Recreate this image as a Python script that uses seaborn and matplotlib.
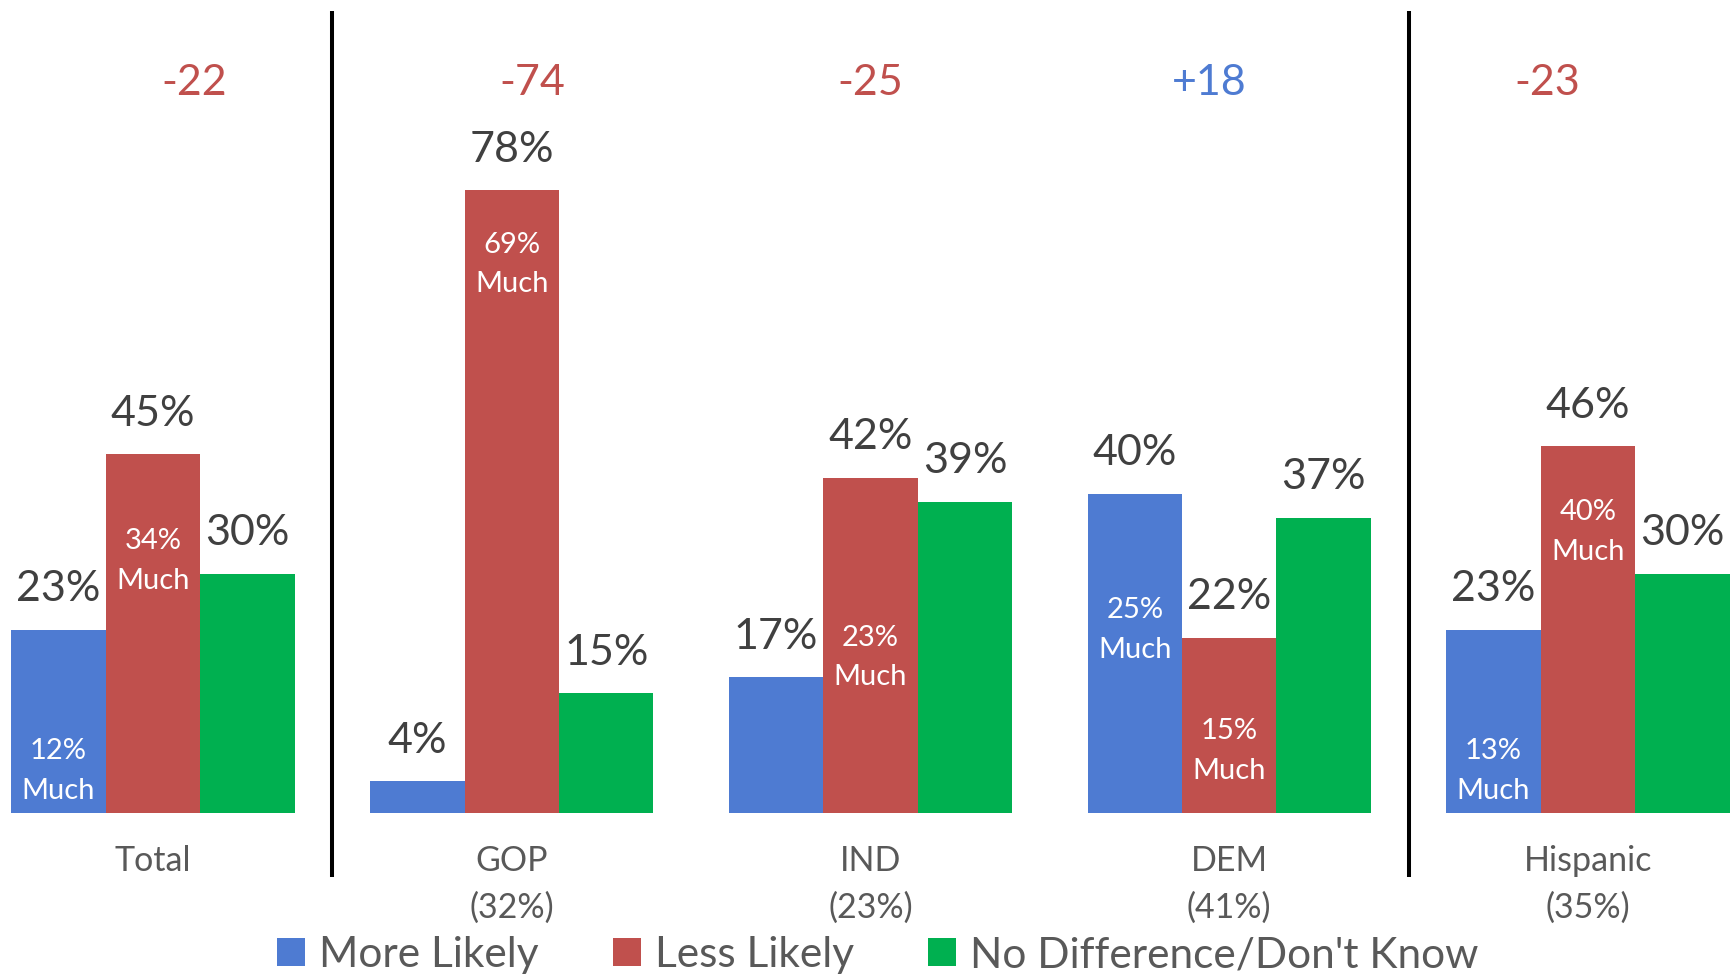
import matplotlib
matplotlib.use("Agg")
import matplotlib.pyplot as plt
import seaborn as sns
import pandas as pd
from matplotlib.patches import Patch

# ---------------- data ----------------
groups = ["Total", "GOP", "IND", "DEM", "Hispanic"]
group_shares = ["", "(32%)", "(23%)", "(41%)", "(35%)"]
responses = ["More Likely", "Less Likely", "No Difference/Don't Know"]
more_likely = [23, 4, 17, 40, 23]
less_likely = [45, 78, 42, 22, 46]
no_difference = [30, 15, 39, 37, 30]
much_more = [12, None, None, 25, 13]
much_less = [34, 69, 23, 15, 40]

# ---------------- style / layout ----------------
colors = ["#4E7BD2", "#C0504D", "#00B050"]
value_color = "#404040"
axis_text_color = "#595959"
# vertical placement (chart % units) of the white "Much" annotations
much_more_pos = [5.3, None, None, 22.9, 5.3]
much_less_pos = [31.6, 68.7, 19.5, 7.8, 35.2]
# horizontal placement of the net-difference labels (evenly spaced header row)
delta_step = 0.943

sns.set_theme(style="white")
plt.rcParams["font.family"] = ["Lato", "DejaVu Sans"]

df = pd.DataFrame({
    "group": groups * 3,
    "response": [r for r in responses for _ in groups],
    "value": more_likely + less_likely + no_difference,
})

fig = plt.figure(figsize=(17.35, 9.80), dpi=100)
ax = fig.add_axes([0, 0.1701, 1, 0.8299])

sns.barplot(data=df, x="group", y="value", hue="response", order=groups,
            hue_order=responses, palette=colors, saturation=1, width=0.79,
            linewidth=0, ax=ax, legend=False)

ax.set_xlim(-0.4266, 4.410)
ax.set_ylim(0, 101.8)
for s in ax.spines.values():
    s.set_visible(False)
ax.set_yticks([])
ax.set_xlabel("")
ax.set_ylabel("")
ax.set_xticks(range(len(groups)))
ax.set_xticklabels([g if not s else f"{g}\n{s}" for g, s in zip(groups, group_shares)],
                   fontsize=24.5, color=axis_text_color, linespacing=1.54)
ax.tick_params(axis="x", length=0, pad=23)

# value labels above bars
for cont in ax.containers:
    for bar in cont:
        h = bar.get_height()
        ax.annotate(f"{h:.0f}%", (bar.get_x() + bar.get_width() / 2, h),
                    xytext=(0, 29), textcoords="offset points",
                    ha="center", va="center", fontsize=31, color=value_color)

# "Much" annotations inside bars
for idx, (vals, poss) in enumerate([(much_more, much_more_pos), (much_less, much_less_pos)]):
    cont = ax.containers[idx]
    for bar, v, p in zip(cont, vals, poss):
        if v is None:
            continue
        ax.text(bar.get_x() + bar.get_width() / 2, p, f"{v}%\nMuch",
                ha="center", va="center", fontsize=21, color="white", linespacing=1.66)

# net difference labels
mid = (len(groups) - 1) / 2
for i, (m, l) in enumerate(zip(more_likely, less_likely)):
    d = m - l
    ax.text(mid + (i - mid) * delta_step, 91.4, f"{d:+d}", ha="center", va="center",
            fontsize=31, color=colors[0] if d > 0 else colors[1])

# separators
for xs in (0.5, 3.5):
    ax.plot([xs, xs], [-8.0, 100.4], color="black", lw=2.9, clip_on=False,
            solid_capstyle="butt")

handles = [Patch(facecolor=c, edgecolor="none") for c in colors]
fig.legend(handles, responses, loc="center", bbox_to_anchor=(0.506, 0.0255),
           ncol=3, frameon=False, fontsize=30.5, handlelength=0.66, handleheight=0.66,
           handletextpad=0.33, columnspacing=1.75, labelcolor=axis_text_color,
           borderaxespad=0, borderpad=0)

fig.savefig("out.png", dpi=100)
